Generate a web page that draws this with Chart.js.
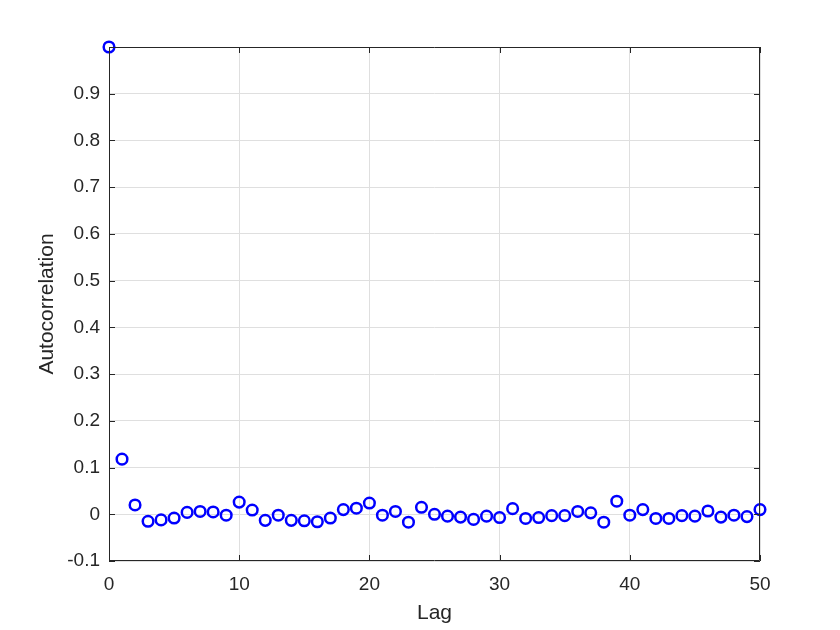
<!DOCTYPE html>
<html>
<head>
<meta charset="utf-8">
<script src="https://cdn.jsdelivr.net/npm/chart.js@4.4.1/dist/chart.umd.min.js"></script>
<style>
  html, body { margin: 0; padding: 0; background: #fff; }
  #wrap { width: 840px; height: 630px; }
</style>
</head>
<body>
<div id="wrap"><canvas id="acf" width="840" height="630"></canvas></div>
<script>
(function () {
  'use strict';

  var lags = [];
  for (var i = 0; i <= 50; i++) lags.push(i);

  var acf = [
    1.0, 0.118, 0.020, -0.015, -0.012, -0.008, 0.004, 0.006, 0.005, -0.002,
    0.026, 0.009, -0.013, -0.002, -0.013, -0.014, -0.016, -0.008, 0.010, 0.013,
    0.024, -0.002, 0.006, -0.017, 0.015, 0.000, -0.004, -0.006, -0.011, -0.004,
    -0.007, 0.012, -0.009, -0.007, -0.003, -0.003, 0.006, 0.003, -0.017, 0.028,
    -0.002, 0.010, -0.009, -0.009, -0.003, -0.004, 0.007, -0.006, -0.002, -0.005,
    0.010
  ];

  var xTicks = [0, 10, 20, 30, 40, 50];
  var yTicks = [-0.1, 0, 0.1, 0.2, 0.3, 0.4, 0.5, 0.6, 0.7, 0.8, 0.9, 1.0];

  var axisColor = '#262626';
  var gridColor = '#dfdfdf';
  var font = 'Liberation Sans, Arial, Helvetica, sans-serif';

  // MATLAB style box with inward ticks on all four sides
  var boxPlugin = {
    id: 'box',
    afterDatasetsDraw: function (chart) {
      var a = chart.chartArea, ctx = chart.ctx;
      var xs = chart.scales.x, ys = chart.scales.y;
      var len = 6;
      ctx.save();
      ctx.strokeStyle = axisColor;
      ctx.lineWidth = 1;
      ctx.beginPath();
      ctx.rect(a.left + 0.5, a.top + 0.5, a.right - a.left - 1, a.bottom - a.top - 1);
      xTicks.forEach(function (v) {
        var px = Math.round(xs.getPixelForValue(v)) + 0.5;
        ctx.moveTo(px, a.bottom);
        ctx.lineTo(px, a.bottom - len);
        ctx.moveTo(px, a.top);
        ctx.lineTo(px, a.top + len);
      });
      yTicks.forEach(function (v) {
        var py = Math.round(ys.getPixelForValue(v)) + 0.5;
        ctx.moveTo(a.left, py);
        ctx.lineTo(a.left + len, py);
        ctx.moveTo(a.right, py);
        ctx.lineTo(a.right - len, py);
      });
      ctx.stroke();
      ctx.restore();
    }
  };

  new Chart(document.getElementById('acf'), {
    type: 'scatter',
    data: {
      datasets: [
        {
          label: 'ACF',
          data: lags.map(function (l, k) {
            return { x: l, y: acf[k] };
          }),
          pointStyle: 'circle',
          pointRadius: 5.3,
          pointBorderWidth: 2.5,
          pointBorderColor: '#0000ff',
          pointBackgroundColor: 'rgba(0,0,0,0)',
          clip: false
        }
      ]
    },
    plugins: [boxPlugin],
    options: {
      responsive: false,
      animation: false,
      layout: { padding: { top: 47, right: 80, left: 0, bottom: 0 } },
      plugins: { legend: { display: false }, tooltip: { enabled: false } },
      scales: {
        x: {
          type: 'linear',
          min: 0,
          max: 50,
          afterBuildTicks: function (s) {
            s.ticks = xTicks.map(function (v) { return { value: v }; });
          },
          afterFit: function (s) { s.height = 69; },
          grid: { color: gridColor, drawTicks: false },
          border: { display: false },
          ticks: {
            padding: 12,
            color: axisColor,
            font: { family: font, size: 19 },
            maxRotation: 0
          },
          title: {
            display: true,
            text: 'Lag',
            color: axisColor,
            font: { family: font, size: 21 },
            padding: { top: 0, bottom: 4 }
          }
        },
        y: {
          type: 'linear',
          min: -0.1,
          max: 1.0,
          afterBuildTicks: function (s) {
            s.ticks = yTicks.map(function (v) { return { value: v }; });
          },
          afterFit: function (s) { s.width = 109; },
          grid: { color: gridColor, drawTicks: false },
          border: { display: false },
          ticks: {
            padding: 9,
            color: axisColor,
            font: { family: font, size: 19 },
            callback: function (v) {
              if (Math.abs(v - 1) < 1e-9) return '';
              return Math.abs(v) < 1e-9 ? '0' : String(+v.toFixed(1));
            }
          },
          title: {
            display: true,
            text: 'Autocorrelation',
            color: axisColor,
            font: { family: font, size: 21 },
            padding: { top: 35, bottom: 0 }
          }
        }
      }
    }
  });
})();
</script>
</body>
</html>
